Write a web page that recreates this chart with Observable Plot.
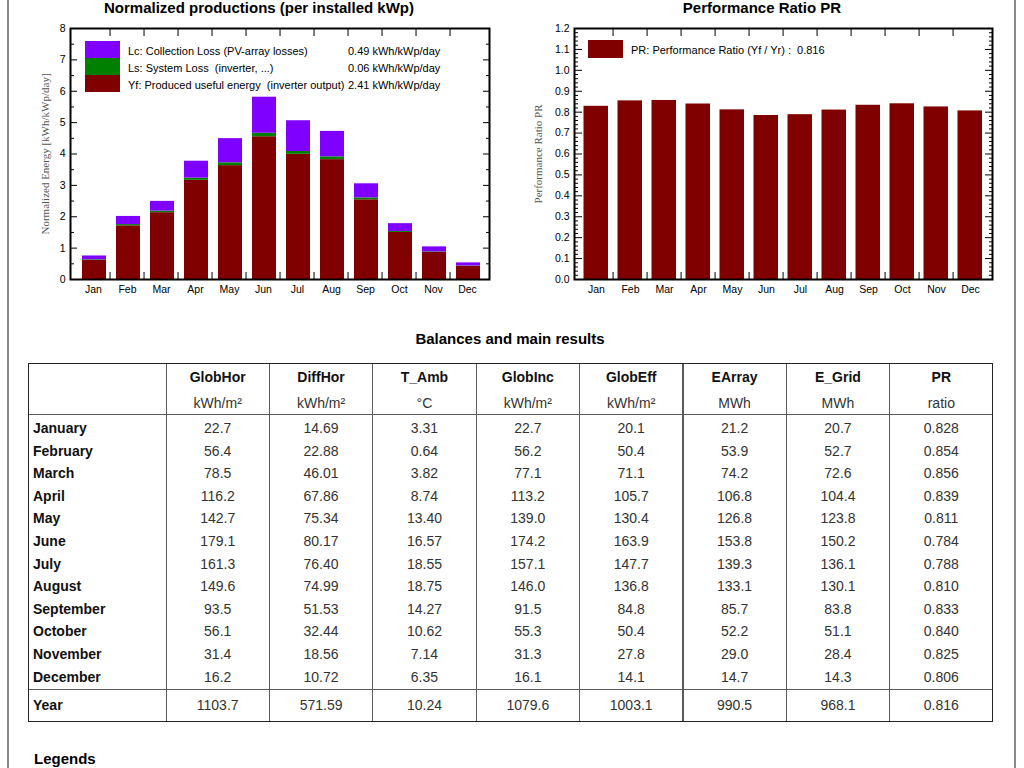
<!DOCTYPE html>
<html><head><meta charset="utf-8">
<script src="https://cdn.jsdelivr.net/npm/d3@7"></script>
<script src="https://cdn.jsdelivr.net/npm/@observablehq/plot@0.6"></script>
<style>
html,body{margin:0;padding:0;background:#fff;}
body{width:1024px;height:768px;overflow:hidden;position:relative;font-family:"Liberation Sans",Arial,sans-serif;color:#000;}
.t{position:absolute;white-space:pre;line-height:1;}
.ln{position:absolute;}
.chart{position:absolute;top:0;}
</style></head><body>
<script>
// ---------- data ----------
const months = ["Jan","Feb","Mar","Apr","May","Jun","Jul","Aug","Sep","Oct","Nov","Dec"];
const yf = [0.61, 1.71, 2.13, 3.16, 3.63, 4.55, 3.99, 3.82, 2.54, 1.50, 0.86, 0.42];
const ls = [0.02, 0.04, 0.05, 0.07, 0.09, 0.11, 0.09, 0.09, 0.06, 0.03, 0.02, 0.01];
const lc = [0.12, 0.26, 0.31, 0.54, 0.77, 1.15, 0.98, 0.81, 0.45, 0.25, 0.16, 0.10];
const prMonthly = [0.828, 0.854, 0.856, 0.839, 0.811, 0.784, 0.788, 0.810, 0.833, 0.840, 0.825, 0.806];
const energyTicks = [0,1,2,3,4,5,6,7,8];
const energyMinor = [0.5,1.5,2.5,3.5,4.5,5.5,6.5,7.5];
const prTicks = [0,0.1,0.2,0.3,0.4,0.5,0.6,0.7,0.8,0.9,1.0,1.1,1.2];

const legendLeft = [
  {key:"Lc", label:"Lc: Collection Loss (PV-array losses)", value:"0.49 kWh/kWp/day", color:"#8000ff"},
  {key:"Ls", label:"Ls: System Loss  (inverter, ...)", value:"0.06 kWh/kWp/day", color:"#008000"},
  {key:"Yf", label:"Yf: Produced useful energy  (inverter output)", value:"2.41 kWh/kWp/day", color:"#800000"}
];
const legendRight = "PR: Performance Ratio (Yf / Yr) :  0.816";

const tableTitle = "Balances and main results";
const colNames = ["GlobHor","DiffHor","T_Amb","GlobInc","GlobEff","EArray","E_Grid","PR"];
const colUnits = ["kWh/m²","kWh/m²","°C","kWh/m²","kWh/m²","MWh","MWh","ratio"];
const rowNames = ["January","February","March","April","May","June","July","August","September","October","November","December","Year"];
const globHor = ["22.7","56.4","78.5","116.2","142.7","179.1","161.3","149.6","93.5","56.1","31.4","16.2","1103.7"];
const diffHor = ["14.69","22.88","46.01","67.86","75.34","80.17","76.40","74.99","51.53","32.44","18.56","10.72","571.59"];
const tAmb = ["3.31","0.64","3.82","8.74","13.40","16.57","18.55","18.75","14.27","10.62","7.14","6.35","10.24"];
const globInc = ["22.7","56.2","77.1","113.2","139.0","174.2","157.1","146.0","91.5","55.3","31.3","16.1","1079.6"];
const globEff = ["20.1","50.4","71.1","105.7","130.4","163.9","147.7","136.8","84.8","50.4","27.8","14.1","1003.1"];
const eArray = ["21.2","53.9","74.2","106.8","126.8","153.8","139.3","133.1","85.7","52.2","29.0","14.7","990.5"];
const eGrid = ["20.7","52.7","72.6","104.4","123.8","150.2","136.1","130.1","83.8","51.1","28.4","14.3","968.1"];
const prCol = ["0.828","0.854","0.856","0.839","0.811","0.784","0.788","0.810","0.833","0.840","0.825","0.806","0.816"];
const columns = [globHor, diffHor, tAmb, globInc, globEff, eArray, eGrid, prCol];

// ---------- helpers ----------
function txt(s, x, y, o = {}) {
  const d = document.createElement("div");
  d.className = "t";
  d.textContent = s;
  d.style.left = x + "px";
  d.style.top = y + "px";
  d.style.fontSize = (o.size || 14) + "px";
  if (o.bold) d.style.fontWeight = "bold";
  if (o.color) d.style.color = o.color;
  if (o.family) d.style.fontFamily = o.family;
  const tx = o.anchor === "middle" ? "-50%" : o.anchor === "end" ? "-100%" : "0";
  d.style.transform = `translate(${tx},-50%)`;
  document.body.appendChild(d);
  return d;
}
function box(x, y, w, h, color) {
  const d = document.createElement("div");
  d.className = "ln";
  Object.assign(d.style, {left: x + "px", top: y + "px", width: w + "px", height: h + "px", background: color});
  document.body.appendChild(d);
  return d;
}

// page border lines
box(7, 0, 2, 768, "#8a8a8a");
box(1014, 0, 1.5, 768, "#8a8a8a");

// ---------- left chart ----------
const rows = [];
months.forEach((m, i) => {
  rows.push({month: m, comp: "Yf", v: yf[i]});
  rows.push({month: m, comp: "Ls", v: ls[i]});
  rows.push({month: m, comp: "Lc", v: lc[i]});
});
const axisStyle = {fontFamily: "'Liberation Sans', Arial, sans-serif", fontSize: "10.5px", color: "black", background: "transparent", overflow: "visible"};

{
  const W = 512, H = 300, mL = 70, mR = 23, mT = 28, mB = 21;
  const step = (W - mL - mR) / months.length;
  const p = Plot.plot({
    width: W, height: H, marginLeft: mL, marginRight: mR, marginTop: mT, marginBottom: mB,
    style: axisStyle,
    x: {domain: months, padding: 0},
    y: {domain: [0, 8]},
    color: {domain: ["Yf","Ls","Lc"], range: ["#800000","#008000","#8000ff"]},
    marks: [
      Plot.barY(rows, {x: "month", y: "v", fill: "comp", insetLeft: 6, insetRight: 4}),
      Plot.frame({stroke: "black", strokeWidth: 2}),
      Plot.axisY(energyTicks, {anchor: "left", tickSize: 7, dx: 7, fill: "none", label: null}),
      Plot.axisY(energyTicks, {anchor: "right", tickSize: 7, dx: -7, fill: "none", label: null}),
      Plot.axisY(energyMinor, {anchor: "left", tickSize: 4, dx: 4, fill: "none", label: null}),
      Plot.axisY(energyMinor, {anchor: "right", tickSize: 4, dx: -4, fill: "none", label: null}),
      Plot.axisY(energyTicks, {anchor: "left", tickSize: 0, tickPadding: 5, label: null}),
      Plot.axisX(months.slice(1), {anchor: "bottom", tickSize: 7, dy: -7, dx: -step / 2, fill: "none", label: null}),
      Plot.axisX(months.slice(1), {anchor: "top", tickSize: 7, dy: 7, dx: -step / 2, fill: "none", label: null}),
      Plot.axisX({anchor: "bottom", tickSize: 0, tickPadding: 6, label: null}),
      Plot.text(["Normalized Energy [kWh/kWp/day]"], {frameAnchor: "left", textAnchor: "middle", dx: -25, rotate: -90, fontFamily: "'Liberation Serif', 'Times New Roman', serif", fontSize: 11, fill: "#555"})
    ]
  });
  const wrap = document.createElement("div");
  wrap.className = "chart"; wrap.style.left = "0px";
  wrap.appendChild(p);
  document.body.appendChild(wrap);
}

// ---------- right chart ----------
{
  const W = 512, H = 300, mL = 62, mR = 32, mT = 28, mB = 21;
  const step = (W - mL - mR) / months.length;
  const prRows = months.map((m, i) => ({month: m, pr: prMonthly[i]}));
  const minor = d3.range(0, 61).filter(i => i % 5 !== 0).map(i => i / 50);
  const p = Plot.plot({
    width: W, height: H, marginLeft: mL, marginRight: mR, marginTop: mT, marginBottom: mB,
    style: axisStyle,
    x: {domain: months, padding: 0},
    y: {domain: [0, 1.2]},
    marks: [
      Plot.barY(prRows, {x: "month", y: "pr", fill: "#800000", insetLeft: 4.5, insetRight: 5}),
      Plot.frame({stroke: "black", strokeWidth: 2}),
      Plot.axisY(prTicks, {anchor: "left", tickSize: 8, dx: 8, fill: "none", label: null}),
      Plot.axisY(prTicks, {anchor: "right", tickSize: 8, dx: -8, fill: "none", label: null}),
      Plot.axisY(minor, {anchor: "left", tickSize: 4, dx: 4, fill: "none", label: null}),
      Plot.axisY(minor, {anchor: "right", tickSize: 4, dx: -4, fill: "none", label: null}),
      Plot.axisY(prTicks, {anchor: "left", tickSize: 0, tickPadding: 5, tickFormat: d3.format(".1f"), label: null}),
      Plot.axisX(months.slice(1), {anchor: "bottom", tickSize: 7, dy: -7, dx: -step / 2, fill: "none", label: null}),
      Plot.axisX(months.slice(1), {anchor: "top", tickSize: 7, dy: 7, dx: -step / 2, fill: "none", label: null}),
      Plot.axisX({anchor: "bottom", tickSize: 0, tickPadding: 6, label: null}),
      Plot.text(["Performance Ratio PR"], {frameAnchor: "left", textAnchor: "middle", dx: -36, rotate: -90, fontFamily: "'Liberation Serif', 'Times New Roman', serif", fontSize: 11, fill: "#555"})
    ]
  });
  const wrap = document.createElement("div");
  wrap.className = "chart"; wrap.style.left = "512px";
  wrap.appendChild(p);
  document.body.appendChild(wrap);
}

// chart titles
txt("Normalized productions (per installed kWp)", 259, 7, {size: 15, bold: true, anchor: "middle"});
txt("Performance Ratio PR", 762, 7, {size: 15, bold: true, anchor: "middle"});

// left legend
legendLeft.forEach((l, i) => {
  const y0 = 40.7 + i * 17.2;
  box(85, y0, 35, 17.4, l.color);
  txt(l.label, 128, y0 + 9.8, {size: 11});
  txt(l.value, 348, y0 + 9.8, {size: 11});
});
// right legend
box(588, 40, 35, 17.5, "#800000");
txt(legendRight, 631, 49.8, {size: 11});

// ---------- table ----------
txt(tableTitle, 510, 338, {size: 15, bold: true, anchor: "middle"});
const tL = 28, tR = 993, tT = 363, tHead = 414, tYear = 689, tB = 722;
const colX = [tL, 166];
for (let i = 1; i <= 8; i++) colX.push(166 + (tR - 166) * i / 8);
// inner vertical lines
for (let i = 1; i < colX.length - 1; i++) box(colX[i] - 0.5, tT, 1.2, tB - tT, "#5a5a5a");
// horizontal inner lines
box(tL, tHead - 0.5, tR - tL, 1.2, "#5a5a5a");
box(tL, tYear - 0.5, tR - tL, 1.2, "#5a5a5a");
// outer border
const ob = box(tL, tT, tR - tL, tB - tT, "transparent");
ob.style.border = "1px solid #222"; ob.style.boxSizing = "border-box";

colNames.forEach((n, j) => {
  const cx = (colX[j + 1] + colX[j + 2]) / 2;
  txt(n, cx, 377, {size: 14, bold: true, anchor: "middle", color: "#111"});
  txt(colUnits[j], cx, 403, {size: 14, anchor: "middle", color: "#333"});
});
rowNames.forEach((r, i) => {
  const cy = i < 12 ? 428 + i * 22.6 : 705;
  txt(r, 33, cy, {size: 14, bold: true, color: "#111"});
  columns.forEach((col, j) => {
    const cx = (colX[j + 1] + colX[j + 2]) / 2;
    txt(col[i], cx, cy, {size: 14, anchor: "middle", color: "#333"});
  });
});

txt("Legends", 34, 758, {size: 15, bold: true});
</script>
</body></html>
